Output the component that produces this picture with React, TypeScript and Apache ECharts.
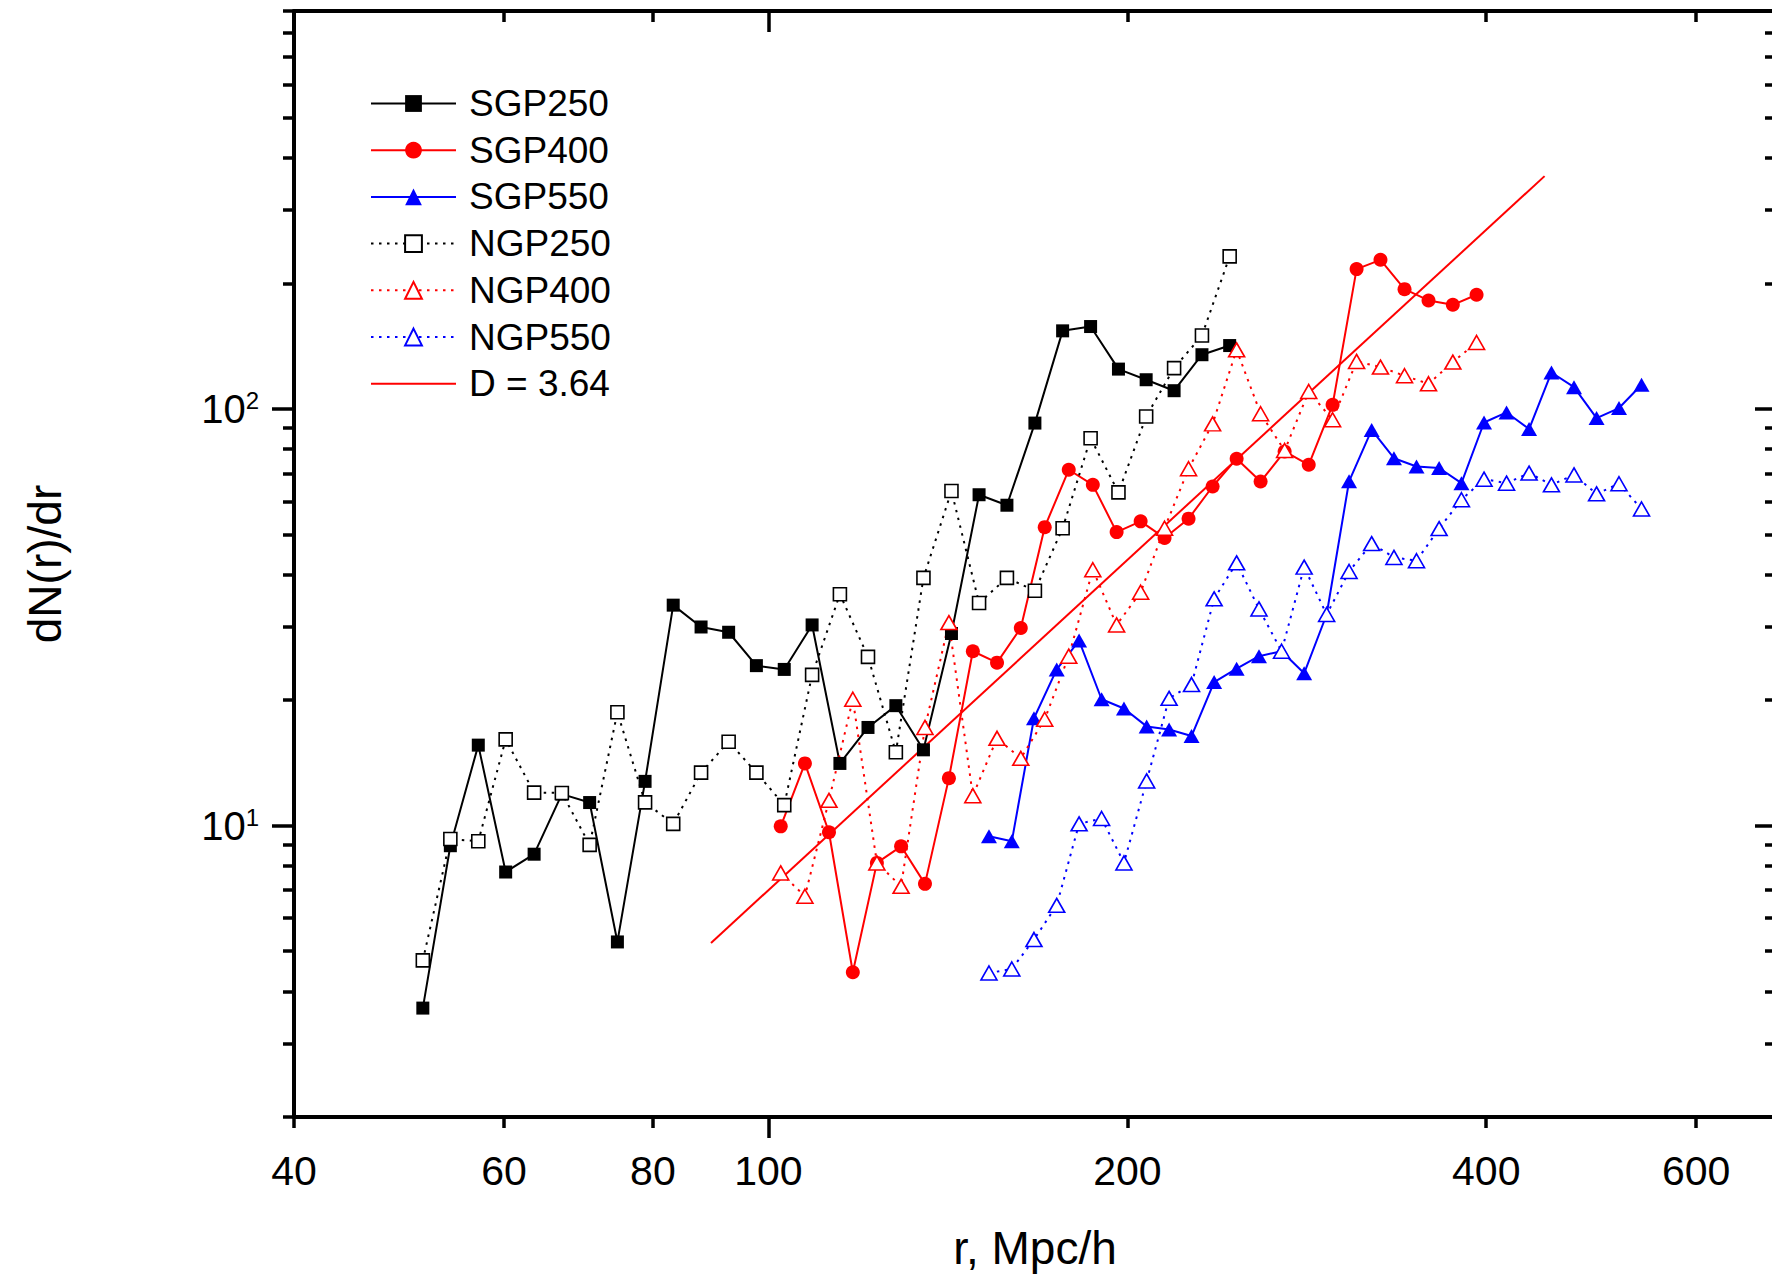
import React, { useEffect, useRef } from 'react';
import * as echarts from 'echarts';

const FONT = '"Liberation Sans", Arial, Helvetica, sans-serif';

// ---- data (r in Mpc/h, dN(r)/dr) ----
const r250 = [51.3, 54.1, 57.1, 60.2, 63.6, 67.1, 70.8, 74.7, 78.8, 83.2, 87.8, 92.6, 97.7, 103.1, 108.8, 114.8, 121.2, 127.9, 134.9, 142.4, 150.2, 158.5, 167.3, 176.5, 186.3, 196.6, 207.4, 218.9, 231.0, 243.7];
const sgp250 = [3.65, 8.95, 15.6, 7.74, 8.54, 11.9, 11.36, 5.26, 12.77, 33.8, 29.96, 29.1, 24.2, 23.7, 30.3, 14.1, 17.2, 19.4, 15.2, 28.9, 62.2, 58.7, 92.4, 153.8, 157.5, 124.5, 117.4, 110.5, 134.8, 141.8];
const ngp250 = [4.75, 9.29, 9.17, 16.1, 12.0, 11.98, 8.99, 18.7, 11.37, 10.1, 13.4, 15.9, 13.4, 11.2, 23.0, 35.9, 25.4, 15.0, 39.3, 63.5, 34.2, 39.3, 36.6, 51.7, 85.0, 63.0, 95.8, 125.2, 149.9, 232.1];

const r400 = [102.4, 107.3, 112.4, 117.7, 123.3, 129.2, 135.3, 141.7, 148.4, 155.5, 162.8, 170.5, 178.6, 187.1, 195.9, 205.2, 214.9, 225.1, 235.8, 247.0, 258.7, 271.0, 283.9, 297.3, 311.4, 326.1, 341.6, 357.8, 375.0, 392.6];
const sgp400 = [9.96, 14.1, 9.64, 4.45, 8.14, 8.92, 7.25, 13.0, 26.2, 24.6, 29.8, 52.0, 71.4, 65.7, 50.6, 53.7, 49.0, 54.5, 65.1, 75.9, 66.9, 79.0, 73.4, 102.2, 216.3, 227.7, 193.6, 181.9, 177.6, 187.7];
const ngp400 = [7.70, 6.77, 11.5, 20.1, 8.14, 7.15, 17.2, 30.7, 11.8, 16.2, 14.5, 18.0, 25.5, 41.1, 30.3, 36.3, 51.7, 71.8, 92.0, 138.5, 97.3, 79.4, 110.0, 94.1, 129.9, 125.9, 120.0, 114.8, 129.4, 144.2];

const r550 = [153.1, 160.0, 167.0, 174.5, 182.2, 190.3, 198.7, 207.6, 216.8, 226.4, 236.5, 247.0, 257.9, 269.4, 281.4, 293.9, 306.9, 320.6, 334.7, 349.6, 365.2, 381.3, 398.3, 416.0, 434.5, 453.7, 473.9, 495.0, 516.9, 539.9];
const sgp550 = [9.43, 9.17, 18.1, 23.7, 27.8, 20.1, 19.1, 17.3, 17.0, 16.4, 22.1, 23.8, 25.5, 26.2, 23.2, 32.1, 67.0, 89.0, 76.1, 72.7, 72.1, 66.3, 92.7, 98.0, 89.4, 122.2, 112.7, 95.0, 100.4, 114.2];
const ngp550 = [4.43, 4.53, 5.33, 6.44, 10.1, 10.4, 8.14, 12.8, 20.2, 21.8, 35.0, 42.7, 33.1, 26.2, 41.7, 32.1, 40.7, 47.5, 44.0, 43.2, 51.6, 60.5, 67.8, 66.3, 70.1, 65.7, 69.4, 62.5, 66.1, 57.5];

// fractal dimension fit D = 3.64 (slope D-1 on log-log)
const fitR = [89.5, 447.7];
const fitN = [5.23, 361.5];

// ---- axes ----
const xLabelValues = [40, 60, 80, 100, 200, 400, 600];
const xMinorTicks = [40, 60, 80, 200, 400, 600];
const xMajorTicks = [100];
const yMajorTicks = [10, 100];
const yMinorTicks = [2, 3, 4, 5, 6, 7, 8, 9, 20, 30, 40, 50, 60, 70, 80, 90, 200, 300, 400, 500, 600, 700, 800, 900];
const X_MIN = 40;
const X_MAX = 700;
const Y_MIN = 2;
const Y_MAX = 900;

const DOTTED = [2.5, 5.5];
const BLACK = '#000000';
const RED = '#ff0000';
const BLUE = '#0000ff';

const zip = (xs: number[], ys: number[]) => xs.map((x, i) => [x, ys[i]]);

const tickLine = { color: BLACK, width: 3.5 };

const baseX = {
  type: 'log',
  logBase: 10,
  min: X_MIN,
  max: X_MAX,
  gridIndex: 0,
  splitLine: { show: false },
  axisLabel: { show: false },
  axisTick: { show: false },
  axisLine: { show: false, onZero: false },
};
const baseY = {
  type: 'log',
  logBase: 10,
  min: Y_MIN,
  max: Y_MAX,
  gridIndex: 0,
  splitLine: { show: false },
  axisLabel: { show: false },
  axisTick: { show: false },
  axisLine: { show: false, onZero: false },
};
const frameLine = { show: true, onZero: false, lineStyle: { color: BLACK, width: 4 } };

function buildOption() {
  const solid = (color: string) => ({ color, width: 2 });
  const dotted = (color: string) => ({ color, width: 2, type: DOTTED });
  const mk = (
    name: string,
    xs: number[],
    ys: number[],
    symbol: string,
    size: number | number[],
    color: string,
    open: boolean,
  ) => ({
    name,
    type: 'line',
    xAxisIndex: 0,
    yAxisIndex: 0,
    data: zip(xs, ys),
    symbol,
    symbolSize: size,
    showSymbol: true,
    clip: false,
    itemStyle: open
      ? { color: '#ffffff', borderColor: color, borderWidth: 1.6 }
      : { color, borderWidth: 0 },
    lineStyle: open ? dotted(color) : solid(color),
    emphasis: { disabled: true },
  });

  return {
    animation: false,
    backgroundColor: '#ffffff',
    textStyle: { fontFamily: FONT },
    grid: { left: 294, top: 11, width: 1482, height: 1106, containLabel: false, outerBoundsMode: 'none' },
    legend: {
      orient: 'vertical',
      left: 370,
      top: 85,
      padding: 0,
      itemWidth: 85,
      itemHeight: 21,
      itemGap: 9.7,
      selectedMode: false,
      textStyle: { fontSize: 37, fontFamily: FONT, color: BLACK, lineHeight: 21, padding: [0, 0, 0, 8] },
      data: [
        { name: 'SGP250' },
        { name: 'SGP400' },
        { name: 'SGP550' },
        { name: 'NGP250', lineStyle: { type: DOTTED } },
        { name: 'NGP400', lineStyle: { type: DOTTED } },
        { name: 'NGP550', lineStyle: { type: DOTTED } },
        { name: 'D = 3.64', itemStyle: { opacity: 0 } },
      ],
    },
    xAxis: [
      {
        ...baseX,
        position: 'bottom',
        axisLine: frameLine,
        axisTick: { show: true, inside: false, length: 11, customValues: xMinorTicks, lineStyle: tickLine },
        axisLabel: {
          show: true,
          customValues: xLabelValues,
          margin: 33,
          fontSize: 41,
          fontFamily: FONT,
          color: BLACK,
          formatter: (v: number) => String(Math.round(v)),
        },
        name: 'r, Mpc/h',
        nameLocation: 'middle',
        nameGap: 108,
        nameTextStyle: { fontSize: 46, fontFamily: FONT, color: BLACK },
      },
      {
        ...baseX,
        position: 'bottom',
        axisTick: { show: true, inside: false, length: 21, customValues: xMajorTicks, lineStyle: tickLine },
      },
      {
        ...baseX,
        position: 'top',
        axisLine: frameLine,
        axisTick: { show: true, inside: true, length: 11, customValues: xMinorTicks, lineStyle: tickLine },
      },
      {
        ...baseX,
        position: 'top',
        axisTick: { show: true, inside: true, length: 21, customValues: xMajorTicks, lineStyle: tickLine },
      },
    ],
    yAxis: [
      {
        ...baseY,
        position: 'left',
        axisLine: frameLine,
        axisTick: { show: true, inside: false, length: 11, customValues: yMinorTicks, lineStyle: tickLine },
        name: 'dN(r)/dr',
        nameLocation: 'middle',
        nameRotate: 90,
        nameGap: 226,
        nameTextStyle: { fontSize: 46, fontFamily: FONT, color: BLACK },
      },
      {
        ...baseY,
        position: 'left',
        axisTick: { show: true, inside: false, length: 22, customValues: yMajorTicks, lineStyle: tickLine },
        axisLabel: {
          show: true,
          customValues: yMajorTicks,
          margin: 35,
          fontSize: 40,
          lineHeight: 40,
          fontFamily: FONT,
          color: BLACK,
          formatter: (v: number) => `10{s|${Math.round(Math.log10(v))}}`,
          rich: {
            s: {
              fontSize: 24,
              lineHeight: 24,
              fontFamily: FONT,
              color: BLACK,
              verticalAlign: 'top',
              padding: [0, 0, 34, 0],
            },
          },
        },
      },
      {
        ...baseY,
        position: 'right',
        axisLine: frameLine,
        axisTick: { show: true, inside: true, length: 11, customValues: yMinorTicks, lineStyle: tickLine },
      },
      {
        ...baseY,
        position: 'right',
        axisTick: { show: true, inside: true, length: 21, customValues: yMajorTicks, lineStyle: tickLine },
      },
    ],
    series: [
      mk('SGP250', r250, sgp250, 'rect', 13, BLACK, false),
      mk('SGP400', r400, sgp400, 'circle', 14, RED, false),
      mk('SGP550', r550, sgp550, 'triangle', [16, 14], BLUE, false),
      mk('NGP250', r250, ngp250, 'rect', 13, BLACK, true),
      mk('NGP400', r400, ngp400, 'triangle', [16, 14], RED, true),
      mk('NGP550', r550, ngp550, 'triangle', [16, 14], BLUE, true),
      {
        name: 'D = 3.64',
        type: 'line',
        xAxisIndex: 0,
        yAxisIndex: 0,
        data: zip(fitR, fitN),
        symbol: 'none',
        showSymbol: false,
        itemStyle: { color: RED },
        lineStyle: { color: RED, width: 2 },
        emphasis: { disabled: true },
      },
    ],
  };
}

export default function App() {
  const ref = useRef<HTMLDivElement>(null);
  useEffect(() => {
    if (!ref.current) return;
    const chart = echarts.init(ref.current, null, { renderer: 'svg' });
    chart.setOption(buildOption() as any);
    return () => {
      chart.dispose();
    };
  }, []);
  return (
    <div
      style={{
        position: 'fixed',
        left: 0,
        top: 0,
        width: 1772,
        height: 1276,
        overflow: 'hidden',
        background: '#ffffff',
      }}
    >
      <div ref={ref} style={{ width: 1790, height: 1276 }} />
    </div>
  );
}
